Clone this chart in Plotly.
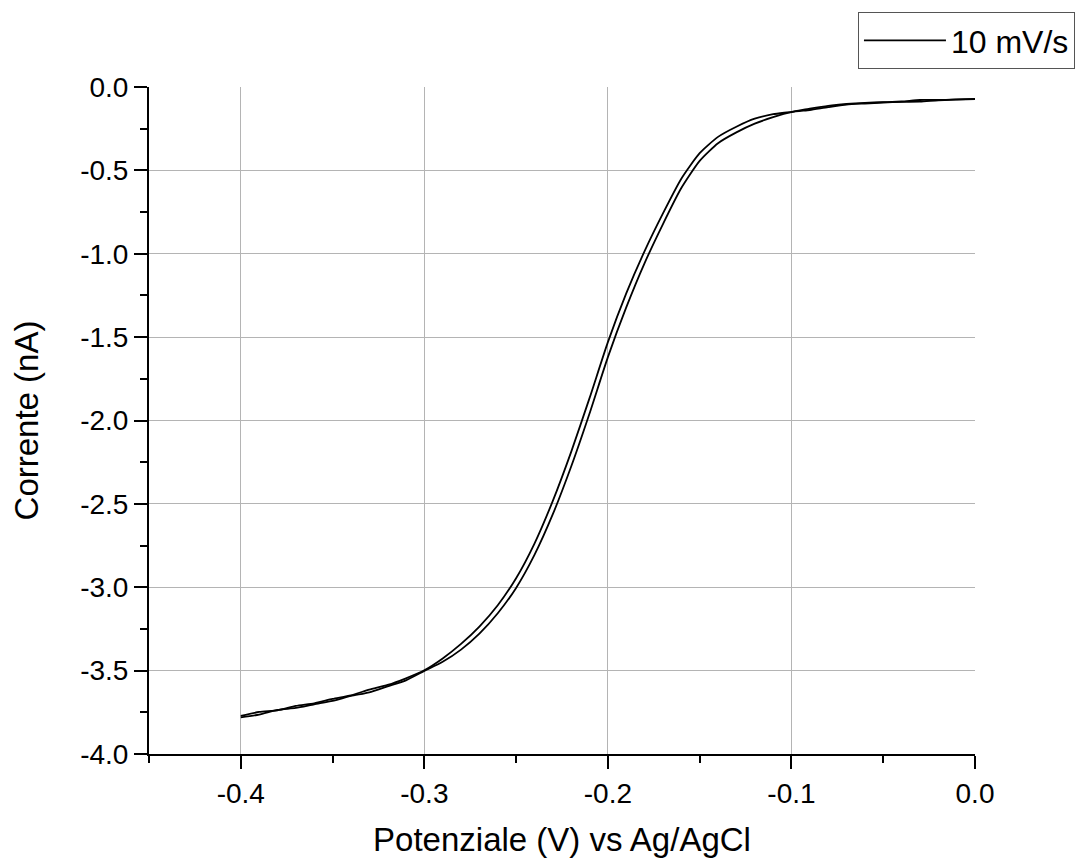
import plotly.graph_objects as go

potential = [-0.40, -0.39, -0.38, -0.37, -0.36, -0.35, -0.34, -0.33, -0.32, -0.31,
             -0.30, -0.29, -0.28, -0.27, -0.26, -0.25, -0.24, -0.23, -0.22, -0.21,
             -0.20, -0.19, -0.18, -0.17, -0.16, -0.15, -0.14, -0.13, -0.12, -0.11,
             -0.10, -0.09, -0.08, -0.07, -0.06, -0.05, -0.04, -0.03, -0.02, -0.01, 0.00]

current_forward = [-3.772, -3.748, -3.738, -3.712, -3.696, -3.670, -3.648, -3.614, -3.586, -3.546,
                   -3.498, -3.427, -3.340, -3.236, -3.108, -2.946, -2.738, -2.482, -2.188, -1.866,
                   -1.530, -1.238, -0.984, -0.758, -0.550, -0.397, -0.299, -0.238, -0.190, -0.163,
                   -0.149, -0.130, -0.113, -0.102, -0.095, -0.091, -0.087, -0.078, -0.078, -0.074, -0.071]

current_reverse = [-3.780, -3.764, -3.736, -3.724, -3.702, -3.682, -3.652, -3.630, -3.594, -3.558,
                   -3.502, -3.447, -3.374, -3.278, -3.156, -3.004, -2.806, -2.562, -2.276, -1.958,
                   -1.620, -1.322, -1.056, -0.822, -0.606, -0.443, -0.337, -0.272, -0.220, -0.181,
                   -0.151, -0.138, -0.121, -0.106, -0.099, -0.093, -0.089, -0.088, -0.080, -0.076, -0.073]

x_tickvals = [-0.4, -0.3, -0.2, -0.1, 0.0]
x_ticktext = ["-0.4", "-0.3", "-0.2", "-0.1", "0.0"]
y_tickvals = [0.0, -0.5, -1.0, -1.5, -2.0, -2.5, -3.0, -3.5, -4.0]
y_ticktext = ["0.0", "-0.5", "-1.0", "-1.5", "-2.0", "-2.5", "-3.0", "-3.5", "-4.0"]

legend_label = "10 mV/s"
x_title = "Potenziale (V) vs Ag/AgCl"
y_title = "Corrente (nA)"

FONT = "Liberation Sans, Arial, sans-serif"

fig = go.Figure()
fig.add_trace(go.Scatter(x=potential, y=current_forward, mode="lines", name=legend_label,
                         line=dict(color="black", width=1.8, shape="spline", smoothing=0.6),
                         legendgroup="a", showlegend=True))
fig.add_trace(go.Scatter(x=potential[::-1], y=current_reverse[::-1], mode="lines", name=legend_label,
                         line=dict(color="black", width=1.8, shape="spline", smoothing=0.6),
                         legendgroup="a", showlegend=False))

fig.update_layout(
    width=1080, height=850,
    margin=dict(l=141, r=113, t=79, b=104, autoexpand=False),
    paper_bgcolor="white", plot_bgcolor="white",
    font=dict(family=FONT, color="black"),
    showlegend=True,
    legend=dict(xref="container", yref="container", x=0.7870, y=0.9953,
                xanchor="left", yanchor="top",
                bordercolor="#555555", borderwidth=1, bgcolor="white",
                font=dict(size=32, family=FONT), itemwidth=82),
    xaxis=dict(range=[-0.45, 0.0], tickmode="array", tickvals=x_tickvals, ticktext=x_ticktext,
               showline=True, linecolor="black", linewidth=2,
               ticks="outside", ticklen=13, tickwidth=2, tickcolor="black",
               minor=dict(dtick=0.05, tick0=0, ticks="outside", ticklen=7, tickwidth=2,
                          tickcolor="black", showgrid=False),
               showgrid=True, gridcolor="#b4b4b4", gridwidth=1, zeroline=False,
               tickfont=dict(size=28, family=FONT), automargin=False,
               title=dict(text=x_title, font=dict(size=33, family=FONT), standoff=20)),
    yaxis=dict(range=[-4.0, 0.0], tickmode="array", tickvals=y_tickvals, ticktext=y_ticktext,
               showline=True, linecolor="black", linewidth=2,
               ticks="outside", ticklen=13, tickwidth=2, tickcolor="black",
               minor=dict(dtick=0.25, tick0=0, ticks="outside", ticklen=7, tickwidth=2,
                          tickcolor="black", showgrid=False),
               showgrid=True, gridcolor="#b4b4b4", gridwidth=1, zeroline=False,
               tickfont=dict(size=28, family=FONT), automargin=False,
               title=dict(text=y_title, font=dict(size=33, family=FONT), standoff=34)),
)

fig.write_html("out.html")
